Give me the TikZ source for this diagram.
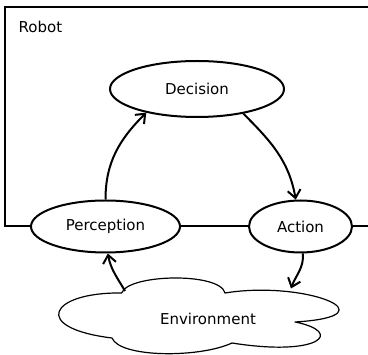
\documentclass[tikz,border=0pt]{standalone}
\usepackage{fontspec}
\setmainfont{DejaVu Sans}
\usetikzlibrary{shapes.geometric,arrows.meta}
\begin{document}
\begin{tikzpicture}[x=1pt,y=-1pt,
  every node/.style={font=\fontsize{15}{18}\selectfont},
  oval/.style={draw,ellipse,line width=2pt,fill=white,inner sep=0pt},
  frame/.style={line width=2pt},
  flow/.style={line width=2pt,-{Straight Barb[length=8pt,width=13pt,line width=2pt]}},
  cloudline/.style={line width=1.2pt,fill=white,line join=round}]
\useasboundingbox (0,0) rectangle (368,355);
% nodes
\node[oval,minimum width=174pt,minimum height=56pt] (dec) at (197,89) {Decision};
\node[oval,minimum width=149pt,minimum height=52pt] (per) at (105.5,226.5) {Perception};
\node[oval,minimum width=103pt,minimum height=52pt] (act) at (300.5,226.5) {Action};
% robot frame
\coordinate (fTR) at (372,7);
\coordinate (fTL) at (5,7);
\coordinate (fBL) at (5,226.5);
\coordinate (fBR) at (372,226.5);
\draw[frame] (fTR) -- (fTL) -- (fBL) -- (per.west);
\draw[frame] (per.east) -- (act.west);
\draw[frame] (act.east) -- (fBR);
\node[anchor=base west,inner sep=0pt] (robot) at (18.5,32.3) {Robot};
% environment cloud
\draw[cloudline] (121.7,293) .. controls (128,274) and (220,272) .. (225,293)
  .. controls (305,280) and (395,316) .. (295,322)
  .. controls (345,332) and (320,357) .. (232,343)
  .. controls (200,358) and (120,358) .. (112,338)
  .. controls (30,328) and (50,292) .. cycle;
\node[inner sep=0pt] (env) at (208,319) {Environment};
\coordinate (envIn) at (291,288.5);
\coordinate (envOut) at (125,291);
% connectors
\draw[flow] (per.north) to[out=90,in=225] (dec.205);
\draw[flow] (dec.-28) to[out=-45,in=100] (act.100);
\draw[flow] (act.-85) to[out=-85,in=70] (envIn);
\draw[flow] (envOut) to[out=120,in=-80] (per.-85);
\end{tikzpicture}
\end{document}
